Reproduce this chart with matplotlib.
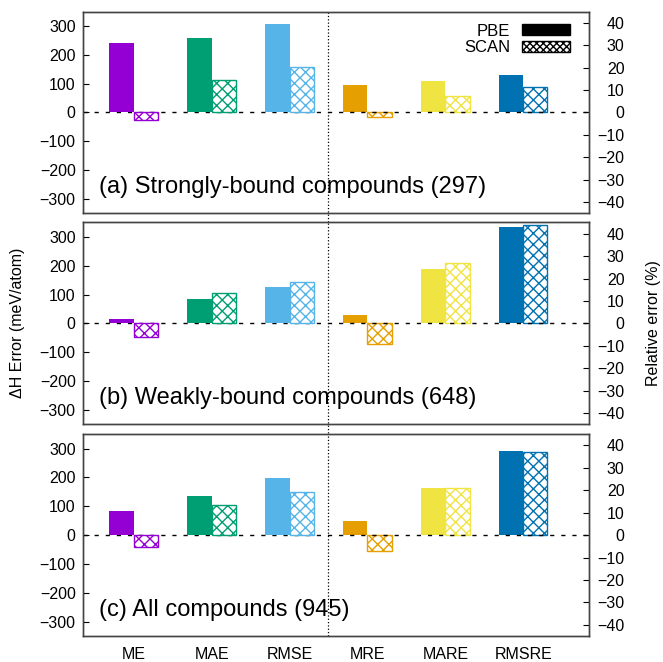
import matplotlib
matplotlib.use('Agg')
import matplotlib.pyplot as plt
from matplotlib.patches import Patch
import numpy as np

plt.rcParams['font.family'] = ['Liberation Sans', 'DejaVu Sans']
plt.rcParams['hatch.linewidth'] = 1.0

# data
metrics = ['ME', 'MAE', 'RMSE', 'MRE', 'MARE', 'RMSRE']
colors = ['#9400D3', '#009E73', '#56B4E9', '#E69F00', '#F0E442', '#0072B2']
panel_labels = ['(a) Strongly-bound compounds (297)',
                '(b) Weakly-bound compounds (648)',
                '(c) All compounds (945)']

# first three in meV/atom (left axis), last three in % (right axis)
pbe_strong = [240, 259, 305, 12.3, 14.0, 16.8]
scan_strong = [-27, 111, 159, -2.0, 7.3, 11.3]
pbe_weak = [16, 85, 125, 3.7, 24.4, 43.2]
scan_weak = [-47, 104, 142, -9.3, 26.9, 43.8]
pbe_all = [83, 137, 197, 6.3, 21.2, 37.3]
scan_all = [-43, 104, 149, -7.3, 20.8, 37.0]

pbe = [pbe_strong, pbe_weak, pbe_all]
scan = [scan_strong, scan_weak, scan_all]

fig = plt.figure(figsize=(6.63, 6.62), dpi=100)

left, width = 0.1247, 0.7641
bottoms = [0.6778, 0.3591, 0.0393]
height = 0.3048
w = 0.31
x = np.arange(len(metrics))

for i in range(3):
    ax = fig.add_axes([left, bottoms[i], width, height])
    ax2 = ax.twinx()
    ax.set_zorder(ax2.get_zorder() + 1)
    ax.patch.set_visible(False)

    for j in range(len(metrics)):
        target = ax if j < 3 else ax2
        target.bar(x[j] - w / 2, pbe[i][j], w, color=colors[j], zorder=3)
        target.bar(x[j] + w / 2, scan[i][j], w, facecolor='white',
                   edgecolor=colors[j], hatch='xxx', linewidth=1.0, zorder=3)

    ax.axhline(0, color='black', linestyle=(0, (3, 5)), linewidth=1.0, zorder=2)
    ymin = -0.045 if i < 2 else 0
    ax.axvline(2.5, ymin=ymin, ymax=1, color='black', linestyle=':',
               linewidth=0.9, clip_on=False, zorder=2)

    ax.set_xlim(-0.654, 5.846)
    ax.set_ylim(-350, 350)
    ax2.set_ylim(-45, 45)
    ax.set_yticks(range(-300, 301, 100))
    ax2.set_yticks(range(-40, 41, 10))
    ax.tick_params(axis='y', direction='in', length=4, labelsize=11.5, pad=5)
    ax2.tick_params(axis='y', direction='in', length=4, labelsize=11.5, pad=25.5)
    for lbl in ax2.get_yticklabels():
        lbl.set_horizontalalignment('right')

    if i == 2:
        ax.set_xticks(x)
        ax.set_xticklabels(metrics)
        ax.tick_params(axis='x', length=0, labelsize=11.5, pad=8)
    else:
        ax.set_xticks([])

    for a in (ax, ax2):
        for s in a.spines.values():
            s.set_color('#444444')
            s.set_linewidth(1.0)

    ax.text(0.032, 0.13, panel_labels[i], transform=ax.transAxes,
            fontsize=17, va='center', ha='left', zorder=5)

    if i == 0:
        handles = [Patch(facecolor='black', edgecolor='black'),
                   Patch(facecolor='white', edgecolor='black', hatch='xxxxx')]
        ax.legend(handles, ['PBE', 'SCAN'], loc='upper right',
                  bbox_to_anchor=(0.962, 0.94), frameon=False,
                  markerfirst=False, fontsize=12, handlelength=2.9,
                  handleheight=0.65, handletextpad=0.7, labelspacing=0.1,
                  borderpad=0, borderaxespad=0)

fig.text(0.027, 0.512, 'ΔH Error (meV/atom)', rotation=90,
         ha='center', va='center', fontsize=11.5)
fig.text(0.985, 0.512, 'Relative error (%)', rotation=90,
         ha='center', va='center', fontsize=11.5)

plt.savefig('out.png', dpi=100)
